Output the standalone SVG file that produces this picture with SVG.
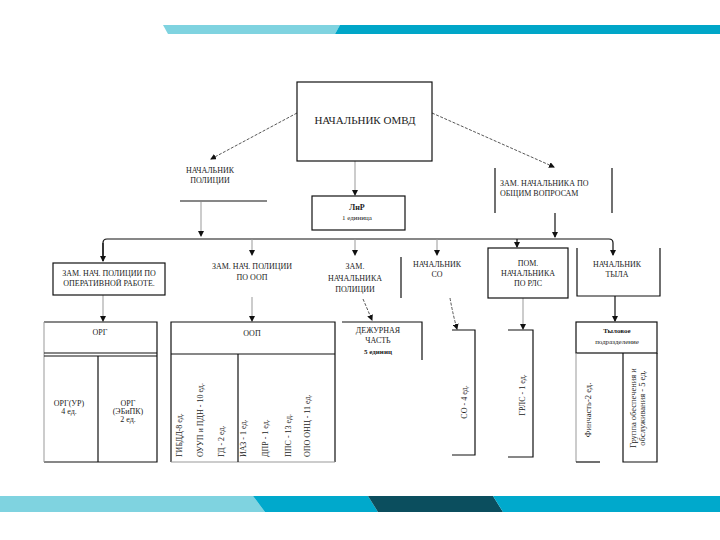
<svg xmlns="http://www.w3.org/2000/svg" width="720" height="540" viewBox="0 0 720 540">
<defs>
<marker id="ah" markerWidth="6" markerHeight="6" refX="5" refY="3" orient="auto" markerUnits="userSpaceOnUse">
<path d="M0,0 L6,3 L0,6 Z" fill="#111"/>
</marker>
<style>
text{font-family:"Liberation Serif","Times New Roman",serif;fill:#222;text-anchor:middle}
.t8{font-size:8px}
.t7{font-size:7px}
.t10{font-size:11px}
.v{font-size:8px}
.b{font-weight:bold}
.box{fill:none;stroke:#111;stroke-width:1.2}
.ln{fill:none;stroke:#111;stroke-width:1.2}
.gl{fill:none;stroke:#999;stroke-width:1}
.dl{fill:none;stroke:#444;stroke-width:0.9;stroke-dasharray:3 1.5}
</style>
</defs>
<rect width="720" height="540" fill="#fff"/>
<!-- decorative bars -->
<polygon points="163,25 340,25 335,34 168,34" fill="#7fd3e0"/>
<polygon points="340,25 720,25 720,34 335,34" fill="#00a6c8"/>
<polygon points="0,496 253,496 265,512 0,512" fill="#7fd3e0"/>
<polygon points="253,496 368,496 378,512 265,512" fill="#00a9cc"/>
<polygon points="368,496 493,496 503,512 378,512" fill="#0b4e5e"/>
<polygon points="493,496 720,496 720,512 503,512" fill="#00a9cc"/>

<g id="connectors">
<line class="dl" x1="297" y1="113" x2="211" y2="159" marker-end="url(#ah)"/>
<line class="dl" x1="432" y1="113" x2="554" y2="167" marker-end="url(#ah)"/>
<line class="gl" x1="355" y1="161" x2="355" y2="195" marker-end="url(#ah)"/>
<line class="gl" x1="201" y1="202" x2="201" y2="236" marker-end="url(#ah)"/>
<line class="ln" x1="555" y1="213" x2="555" y2="237" marker-end="url(#ah)"/>
<path class="ln" d="M103,261 V243 Q103,239 107,239 H609 Q613,239 613,243 V255" marker-end="url(#ah)"/>
<path class="ln" d="M103,243 V261" marker-end="url(#ah)"/>
<line class="gl" x1="252" y1="239" x2="252" y2="255" marker-end="url(#ah)"/>
<line class="gl" x1="355" y1="239" x2="355" y2="255" marker-end="url(#ah)"/>
<line class="gl" x1="437" y1="239" x2="437" y2="255" marker-end="url(#ah)"/>
<line class="ln" x1="517" y1="239" x2="517" y2="247" marker-end="url(#ah)"/>
<line class="gl" x1="103" y1="295" x2="103" y2="321" marker-end="url(#ah)"/>
<line class="gl" x1="252" y1="297" x2="252" y2="321" marker-end="url(#ah)"/>
<line class="dl" x1="363" y1="299" x2="372" y2="320" marker-end="url(#ah)"/>
<path class="dl" d="M450,298 Q453,315 457,329" marker-end="url(#ah)"/>
<line class="gl" x1="523" y1="298" x2="523" y2="329" marker-end="url(#ah)"/>
<line class="ln" x1="615" y1="296" x2="615" y2="321" marker-end="url(#ah)"/>
</g>

<g id="n-omvd">
<rect class="box" x="297" y="82" width="135" height="79"/>
<text class="t10" x="365" y="124">НАЧАЛЬНИК ОМВД</text>
</g>
<g id="n-nach-pol">
<text class="t8" x="210" y="173">НАЧАЛЬНИК</text>
<text class="t8" x="210" y="183">ПОЛИЦИИ</text>
<line class="ln" x1="180" y1="201" x2="267" y2="201"/>
</g>
<g id="n-lnr">
<rect class="box" x="312" y="196" width="93" height="34"/>
<text class="t8 b" x="357" y="210">ЛнР</text>
<text class="t7" x="357" y="220">1 единица</text>
</g>
<g id="n-zam-obsh">
<line class="ln" x1="495" y1="168" x2="495" y2="213"/>
<line class="ln" x1="612" y1="168" x2="612" y2="213"/>
<text class="t8" x="500" y="186" style="text-anchor:start">ЗАМ. НАЧАЛЬНИКА ПО</text>
<text class="t8" x="500" y="196" style="text-anchor:start">ОБЩИМ ВОПРОСАМ</text>
</g>
<g id="n-zam-oper">
<rect class="box" x="53" y="263" width="112" height="32"/>
<text class="t8" x="109" y="276">ЗАМ. НАЧ. ПОЛИЦИИ ПО</text>
<text class="t8" x="109" y="286">ОПЕРАТИВНОЙ РАБОТЕ.</text>
</g>
<g id="n-zam-oop">
<text class="t8" x="252" y="269">ЗАМ. НАЧ. ПОЛИЦИИ</text>
<text class="t8" x="252" y="280">ПО ООП</text>
</g>
<g id="n-zam-nach">
<text class="t8" x="355" y="269">ЗАМ.</text>
<text class="t8" x="355" y="281">НАЧАЛЬНИКА</text>
<text class="t8" x="355" y="292">ПОЛИЦИИ</text>
<line class="ln" x1="401" y1="257" x2="401" y2="298"/>
</g>
<g id="n-nach-so">
<text class="t8" x="437" y="267">НАЧАЛЬНИК</text>
<text class="t8" x="437" y="277">СО</text>
</g>
<g id="n-pom-rls">
<rect class="box" x="488" y="248" width="80" height="50"/>
<text class="t8" x="528" y="266">ПОМ.</text>
<text class="t8" x="528" y="276">НАЧАЛЬНИКА</text>
<text class="t8" x="528" y="286">ПО РЛС</text>
</g>
<g id="n-nach-tyl">
<path class="ln" d="M577,248 V296 H660 V248"/>
<text class="t8" x="617" y="267">НАЧАЛЬНИК</text>
<text class="t8" x="617" y="277">ТЫЛА</text>
</g>
<g id="n-org">
<path class="ln" d="M44,322 H157 V462 H44"/>
<line class="gl" x1="44" y1="322" x2="44" y2="462"/>
<line class="ln" x1="44" y1="353" x2="157" y2="353"/>
<line class="ln" x1="44" y1="356" x2="157" y2="356"/>
<line class="ln" x1="98" y1="356" x2="98" y2="462"/>
<text class="t8" x="100" y="335">ОРГ</text>
<text class="t8" x="69" y="406">ОРГ(УР)</text>
<text class="t8" x="69" y="414">4 ед.</text>
<text class="t8" x="128" y="406">ОРГ</text>
<text class="t8" x="128" y="414">(ЭБиПК)</text>
<text class="t8" x="128" y="422">2 ед.</text>
</g>
<g id="n-oop">
<path class="ln" d="M171,462 V322 H335 V462"/>
<line class="gl" x1="171" y1="462" x2="335" y2="462"/>
<line class="ln" x1="171" y1="354" x2="335" y2="354"/>
<line class="ln" x1="238" y1="354" x2="238" y2="462"/>
<text class="t8" x="252" y="336">ООП</text>
<text class="v" transform="translate(182,457) rotate(-90)" style="text-anchor:start">ГИБДД-8 ед.</text>
<text class="v" transform="translate(203,457) rotate(-90)" style="text-anchor:start">ОУУП и ПДН - 10 ед.</text>
<text class="v" transform="translate(224,457) rotate(-90)" style="text-anchor:start">ГД - 2 ед.</text>
<text class="v" transform="translate(246,457) rotate(-90)" style="text-anchor:start">ИАЗ - 1 ед.</text>
<text class="v" transform="translate(268,457) rotate(-90)" style="text-anchor:start">ДПР - 1 ед.</text>
<text class="v" transform="translate(291,457) rotate(-90)" style="text-anchor:start">ППС - 13 ед.</text>
<text class="v" transform="translate(310,457) rotate(-90)" style="text-anchor:start">ОПО ОНЦ - 11 ед.</text>
</g>
<g id="n-dch">
<path class="ln" d="M342,322 H422 V360"/>
<text class="t8" x="378" y="333">ДЕЖУРНАЯ</text>
<text class="t8" x="378" y="343">ЧАСТЬ</text>
<text class="t7 b" x="378" y="354">5 единиц</text>
</g>
<g id="n-so">
<path class="ln" d="M452,330 H475 V455 H452"/>
<text class="v" transform="translate(467,402) rotate(-90)">СО - 4 ед.</text>
</g>
<g id="n-grls">
<path class="ln" d="M508,330 H533 V457 H508"/>
<text class="v" transform="translate(525,395) rotate(-90)">ГРЛС - 1 ед.</text>
</g>
<g id="n-tyl">
<rect class="box" x="576" y="322" width="81" height="31"/>
<line class="gl" x1="576" y1="353" x2="576" y2="462"/>
<line class="ln" x1="576" y1="462" x2="600" y2="462"/>
<path class="ln" d="M623,353 V462 H657 V353"/>
<text class="t7 b" x="617" y="333">Тыловое</text>
<text class="t7" x="617" y="344">подразделение</text>
<text class="v" transform="translate(591,410) rotate(-90)" style="font-size:8.5px">Финчасть-2 ед.</text>
<text class="v" transform="translate(636,408) rotate(-90)" style="font-size:8.5px">Группа обеспечения и</text>
<text class="v" transform="translate(645,408) rotate(-90)" style="font-size:8.5px">обслуживания - 5 ед.</text>
</g>
</svg>
